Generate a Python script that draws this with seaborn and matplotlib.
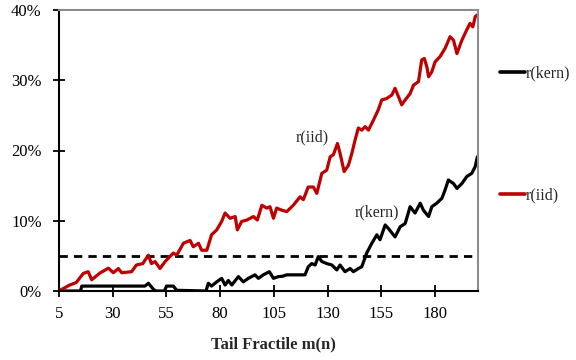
import matplotlib
matplotlib.use("Agg")
import matplotlib.pyplot as plt
from matplotlib.ticker import PercentFormatter
import seaborn as sns
import pandas as pd

# Rejection rates (%) against tail fractile m(n)
m_iid = [5, 5.5, 10, 13, 16.3, 18.6, 20.2, 24, 28, 30.3, 32.6, 34.2, 38.8, 41, 44, 46.6,
         48, 49.7, 52, 54.4, 58.2, 59.8, 62.9, 66, 67.5, 69.9, 71.4, 73.8, 76, 78.4, 80.7,
         82.3, 84.6, 87, 88, 90, 92.4, 95.5, 97.3, 99.4, 101.7, 103.2, 104.8, 106.3, 108.7,
         111, 114, 117.2, 118.7, 121, 123.4, 125, 127.3, 129.6, 131.2, 132.7, 134.6, 135.8,
         137.7, 139.7, 141.3, 142.8, 144.3, 145.9, 147.5, 149, 151.3, 153.6, 155.2, 157.5,
         159.9, 161.4, 163, 164.5, 166.1, 168.4, 170, 172.3, 173.8, 175, 176.2, 177, 178.5,
         180, 182.4, 184.7, 187, 188.6, 190.2, 192.5, 194.8, 196.3, 197.6, 198.7, 199.7]
r_iid = [0, 0.1, 0.85, 1.2, 2.5, 2.75, 1.6, 2.55, 3.25, 2.6, 3.2, 2.6, 2.75, 3.7, 3.9, 5.1,
         3.9, 4.2, 3.2, 4.2, 5.4, 5.1, 6.8, 7.2, 6.3, 6.8, 5.8, 5.8, 8, 8.7, 9.9,
         11.1, 10.35, 10.6, 8.7, 9.9, 10.1, 10.6, 10.1, 12.2, 11.8, 12, 10.35, 11.8, 11.5,
         11.3, 12.2, 13.4, 13, 14.8, 14.8, 13.9, 16.75, 17.2, 19.1, 19.4, 21, 19.6,
         17, 17.9, 19.6, 21.5, 23.2, 22.9, 23.4, 22.9, 24.3, 25.8, 27.2, 27.4,
         27.9, 28.85, 27.65, 26.5, 27.2, 28.1, 29.3, 29.8, 32.9, 33.1, 31.9, 30.5, 31.2,
         32.6, 33.4, 34.55, 36.2, 35.7, 33.8, 35.7, 37.2, 38.1, 37.6, 39.05, 39.3]

m_kern = [5, 15, 15.6, 45, 46.6, 48.9, 50, 54, 55.1, 58.2, 59.8, 73.4, 74.5, 76, 78.4, 80.7,
          82.3, 83.8, 85.4, 88.5, 90.8, 93.1, 96.2, 97.8, 100.1, 102.9, 104.8, 107.1, 109, 111,
          119.5, 121, 122.6, 124.2, 125.7, 127.3, 129.6, 132, 134.3, 135.8, 138.1, 140.5, 142,
          144.3, 145.9, 148.2, 150.6, 152.9, 154.4, 156.8, 158.3, 161.4, 163.8, 166.1, 168.4,
          170.7, 173.1, 174.6, 177, 178.5, 180.8, 183.2, 184.7, 186.2, 188.6, 190.2, 192.5,
          194.8, 197.1, 198.7, 199.7]
r_kern = [0, 0, 0.7, 0.7, 1.1, 0.25, 0, 0, 0.7, 0.7, 0.1, 0, 1.1, 0.7, 1.3, 1.8,
          0.85, 1.5, 0.85, 2.05, 1.3, 1.8, 2.3, 1.8, 2.3, 2.75, 1.8, 2.05, 2.1, 2.3,
          2.3, 3.45, 3.9, 3.7, 4.9, 4.2, 3.9, 3.7, 3, 3.7, 2.75, 3.2, 2.75,
          3.2, 3.45, 5.4, 6.8, 8, 7.3, 9.4, 8.9, 7.7, 9.15, 9.6, 12,
          11.1, 12.5, 11.5, 10.6, 12, 12.5, 13.2, 14.4, 15.8, 15.3, 14.6, 15.3,
          16.3, 16.75, 17.7, 19.1]

nominal_level = 5
series_names = ["r(kern)", "r(iid)"]
series_colors = {"r(kern)": "#000000", "r(iid)": "#C00000"}
x_ticks = [5, 30, 55, 80, 105, 130, 155, 180]
y_ticks = [0, 10, 20, 30, 40]

df = pd.concat([
    pd.DataFrame({"m": m_kern, "rate": r_kern, "series": "r(kern)"}),
    pd.DataFrame({"m": m_iid, "rate": r_iid, "series": "r(iid)"}),
], ignore_index=True)

sns.set_theme(style="white")
plt.rcParams["font.family"] = ["Liberation Serif", "DejaVu Serif"]

fig = plt.figure(figsize=(5.76, 3.6), dpi=100)
ax = fig.add_axes([59 / 576, 1 - 291 / 360, (478 - 59) / 576, (291 - 10) / 360])

sns.lineplot(data=df, x="m", y="rate", hue="series", hue_order=series_names,
             palette=series_colors, linewidth=2.3, estimator=None, sort=False, ax=ax)
ax.axhline(nominal_level, color="black", linestyle=(0, (3, 2.2)), linewidth=2.0, zorder=1)

ax.set_xlim(5, 200)
ax.set_ylim(0, 40)
ax.set_xticks(x_ticks)
ax.set_yticks(y_ticks)
ax.yaxis.set_major_formatter(PercentFormatter(xmax=100, decimals=0))
ax.tick_params(axis="both", direction="inout", length=9, width=1.3, color="black",
               labelsize=12, labelcolor="black", bottom=True, left=True)
ax.tick_params(axis="x", pad=6)
ax.tick_params(axis="y", pad=8)
ax.set_ylabel("")
ax.set_xlabel("Tail Fractile m(n)", fontsize=12, fontweight="bold", labelpad=11, x=0.511)

for side in ["left", "bottom"]:
    ax.spines[side].set_color("black")
    ax.spines[side].set_linewidth(1.5)
for side in ["top", "right"]:
    ax.spines[side].set_color("#8c8c8c")
    ax.spines[side].set_linewidth(1.5)

ax.text(123, 21.8, "r(iid)", fontsize=11.5, ha="center", va="center")
ax.text(152.8, 11.2, "r(kern)", fontsize=11.5, ha="center", va="center")

sns.move_legend(ax, "upper left", bbox_to_anchor=(1.037, 0.826), frameon=False, title=None,
                fontsize=11.5, handlelength=1.57, handletextpad=0.05, labelspacing=6.67,
                borderaxespad=0)
for line in ax.get_legend().get_lines():
    line.set_linewidth(2.6)

fig.savefig("out.png", dpi=100)
